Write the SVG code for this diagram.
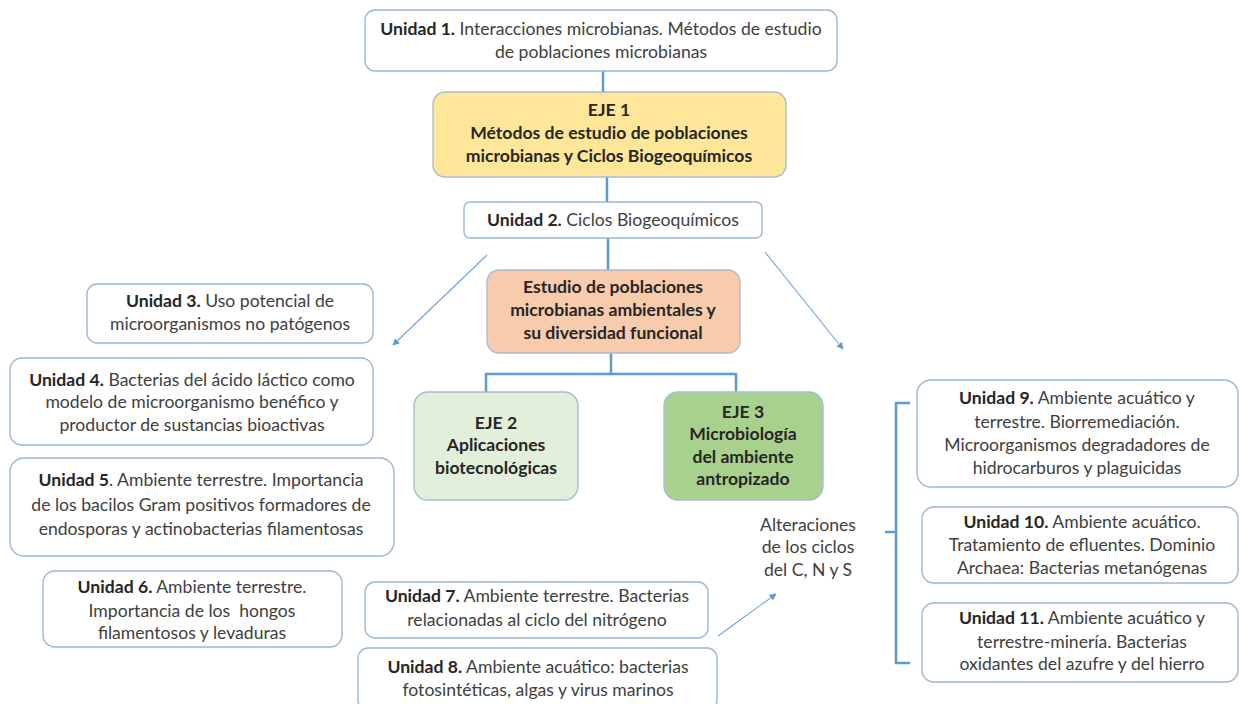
<svg xmlns="http://www.w3.org/2000/svg" width="1240" height="704" viewBox="0 0 1240 704">
<defs>
<style>
.box{fill:#ffffff;stroke:#9cb6d3;stroke-width:1.4}
.t{font-family:Lato,"Liberation Sans",sans-serif;font-size:17.6px;fill:#404040;text-anchor:middle}
.b{font-weight:bold;fill:#262626}
.h{font-family:Lato,"Liberation Sans",sans-serif;font-size:17.6px;font-weight:bold;fill:#262626;text-anchor:middle}
.con{fill:none;stroke:#5b9bd5;stroke-width:2.5}
.arr{fill:none;stroke:#6fa4d8;stroke-width:1.1;marker-end:url(#ah)}
</style>
<marker id="ah" viewBox="0 0 10 10" refX="9" refY="5" markerWidth="7" markerHeight="7" orient="auto" markerUnits="userSpaceOnUse">
<path d="M0,0 L10,5 L0,10 z" fill="#5b9bd5"/>
</marker>
</defs>
<rect width="1240" height="704" fill="#ffffff"/>
<g id="connectors">
<path class="con" d="M603,71 V92"/>
<path class="con" d="M607,177 V202"/>
<path class="con" d="M608,238 V270"/>
<path class="con" d="M611,353 V374 M486,374 H736 M486,373 V392 M736,373 V392"/>
<path class="con" d="M910,403 H896 V663 H910 M896,532 H885"/>
<path class="arr" d="M487,255 L393,345"/>
<path class="arr" d="M765,252 L843,349"/>
<path class="arr" d="M718,636 L776,594"/>
</g>
<g id="u1">
<rect class="box" x="365" y="10" width="472" height="61" rx="10"/>
<text class="t" x="601" y="35"><tspan class="b">Unidad 1.</tspan> Interacciones microbianas. Métodos de estudio</text>
<text class="t" x="601" y="58">de poblaciones microbianas</text>
</g>
<g id="eje1">
<rect x="433" y="92" width="353" height="85" rx="12" fill="#ffe699" stroke="#a9bcd0" stroke-width="1.4"/>
<text class="h" x="609" y="116">EJE 1</text>
<text class="h" x="609" y="139">Métodos de estudio de poblaciones</text>
<text class="h" x="609" y="162">microbianas y Ciclos Biogeoquímicos</text>
</g>
<g id="u2">
<rect class="box" x="464" y="202" width="298" height="36" rx="6"/>
<text class="t" x="613" y="226"><tspan class="b">Unidad 2.</tspan> Ciclos Biogeoquímicos</text>
</g>
<g id="estudio">
<rect x="487" y="270" width="253" height="83" rx="12" fill="#f8cbad" stroke="#a9bcd0" stroke-width="1.4"/>
<text class="h" x="613" y="293">Estudio de poblaciones</text>
<text class="h" x="613" y="316">microbianas ambientales y</text>
<text class="h" x="613" y="339">su diversidad funcional</text>
</g>
<g id="eje2">
<rect x="414" y="392" width="164" height="108" rx="14" fill="#e2efda" stroke="#a9bcd0" stroke-width="1.4"/>
<text class="h" x="496" y="429">EJE 2</text>
<text class="h" x="496" y="451">Aplicaciones</text>
<text class="h" x="496" y="474">biotecnológicas</text>
</g>
<g id="eje3">
<rect x="664" y="392" width="159" height="108" rx="14" fill="#a9d18e" stroke="#a9bcd0" stroke-width="1.4"/>
<text class="h" x="743" y="418">EJE 3</text>
<text class="h" x="743" y="440">Microbiología</text>
<text class="h" x="743" y="463">del ambiente</text>
<text class="h" x="743" y="485">antropizado</text>
</g>
<g id="u3">
<rect class="box" x="87" y="284" width="286" height="59" rx="10"/>
<text class="t" x="230" y="307"><tspan class="b">Unidad 3.</tspan> Uso potencial de</text>
<text class="t" x="230" y="330">microorganismos no patógenos</text>
</g>
<g id="u4">
<rect class="box" x="10" y="358" width="363" height="87" rx="12"/>
<text class="t" x="192" y="386"><tspan class="b">Unidad 4.</tspan> Bacterias del ácido láctico como</text>
<text class="t" x="192" y="408">modelo de microorganismo benéfico y</text>
<text class="t" x="192" y="431">productor de sustancias bioactivas</text>
</g>
<g id="u5">
<rect class="box" x="10" y="458" width="384" height="98" rx="14"/>
<text class="t" x="201" y="486"><tspan class="b">Unidad 5</tspan>. Ambiente terrestre. Importancia</text>
<text class="t" x="201" y="511">de los bacilos Gram positivos formadores de</text>
<text class="t" x="201" y="535">endosporas y actinobacterias filamentosas</text>
</g>
<g id="u6">
<rect class="box" x="43" y="571" width="299" height="76" rx="12"/>
<text class="t" x="192" y="593"><tspan class="b">Unidad 6.</tspan> Ambiente terrestre.</text>
<text class="t" x="192" y="617" xml:space="preserve">Importancia de los  hongos</text>
<text class="t" x="192" y="639">filamentosos y levaduras</text>
</g>
<g id="u7">
<rect class="box" x="365" y="582" width="343" height="56" rx="10"/>
<text class="t" x="537" y="602"><tspan class="b">Unidad 7.</tspan> Ambiente terrestre. Bacterias</text>
<text class="t" x="537" y="626">relacionadas al ciclo del nitrógeno</text>
</g>
<g id="u8">
<rect class="box" x="358" y="648" width="359" height="62" rx="10"/>
<text class="t" x="538" y="673"><tspan class="b">Unidad 8.</tspan> Ambiente acuático: bacterias</text>
<text class="t" x="538" y="696">fotosintéticas, algas y virus marinos</text>
</g>
<g id="alteraciones">
<text class="t" x="808" y="531">Alteraciones</text>
<text class="t" x="808" y="553">de los ciclos</text>
<text class="t" x="808" y="576">del C, N y S</text>
</g>
<g id="u9">
<rect class="box" x="917" y="380" width="321" height="107" rx="14"/>
<text class="t" x="1077" y="404"><tspan class="b">Unidad 9.</tspan> Ambiente acuático y</text>
<text class="t" x="1077" y="428">terrestre. Biorremediación.</text>
<text class="t" x="1077" y="451">Microorganismos degradadores de</text>
<text class="t" x="1077" y="474">hidrocarburos y plaguicidas</text>
</g>
<g id="u10">
<rect class="box" x="922" y="507" width="316" height="76" rx="12"/>
<text class="t" x="1082" y="528"><tspan class="b">Unidad 10.</tspan> Ambiente acuático.</text>
<text class="t" x="1082" y="551">Tratamiento de efluentes. Dominio</text>
<text class="t" x="1082" y="574">Archaea: Bacterias metanógenas</text>
</g>
<g id="u11">
<rect class="box" x="922" y="603" width="316" height="79" rx="12"/>
<text class="t" x="1082" y="624"><tspan class="b">Unidad 11.</tspan> Ambiente acuático y</text>
<text class="t" x="1082" y="648">terrestre-minería. Bacterias</text>
<text class="t" x="1082" y="670">oxidantes del azufre y del hierro</text>
</g>
</svg>
